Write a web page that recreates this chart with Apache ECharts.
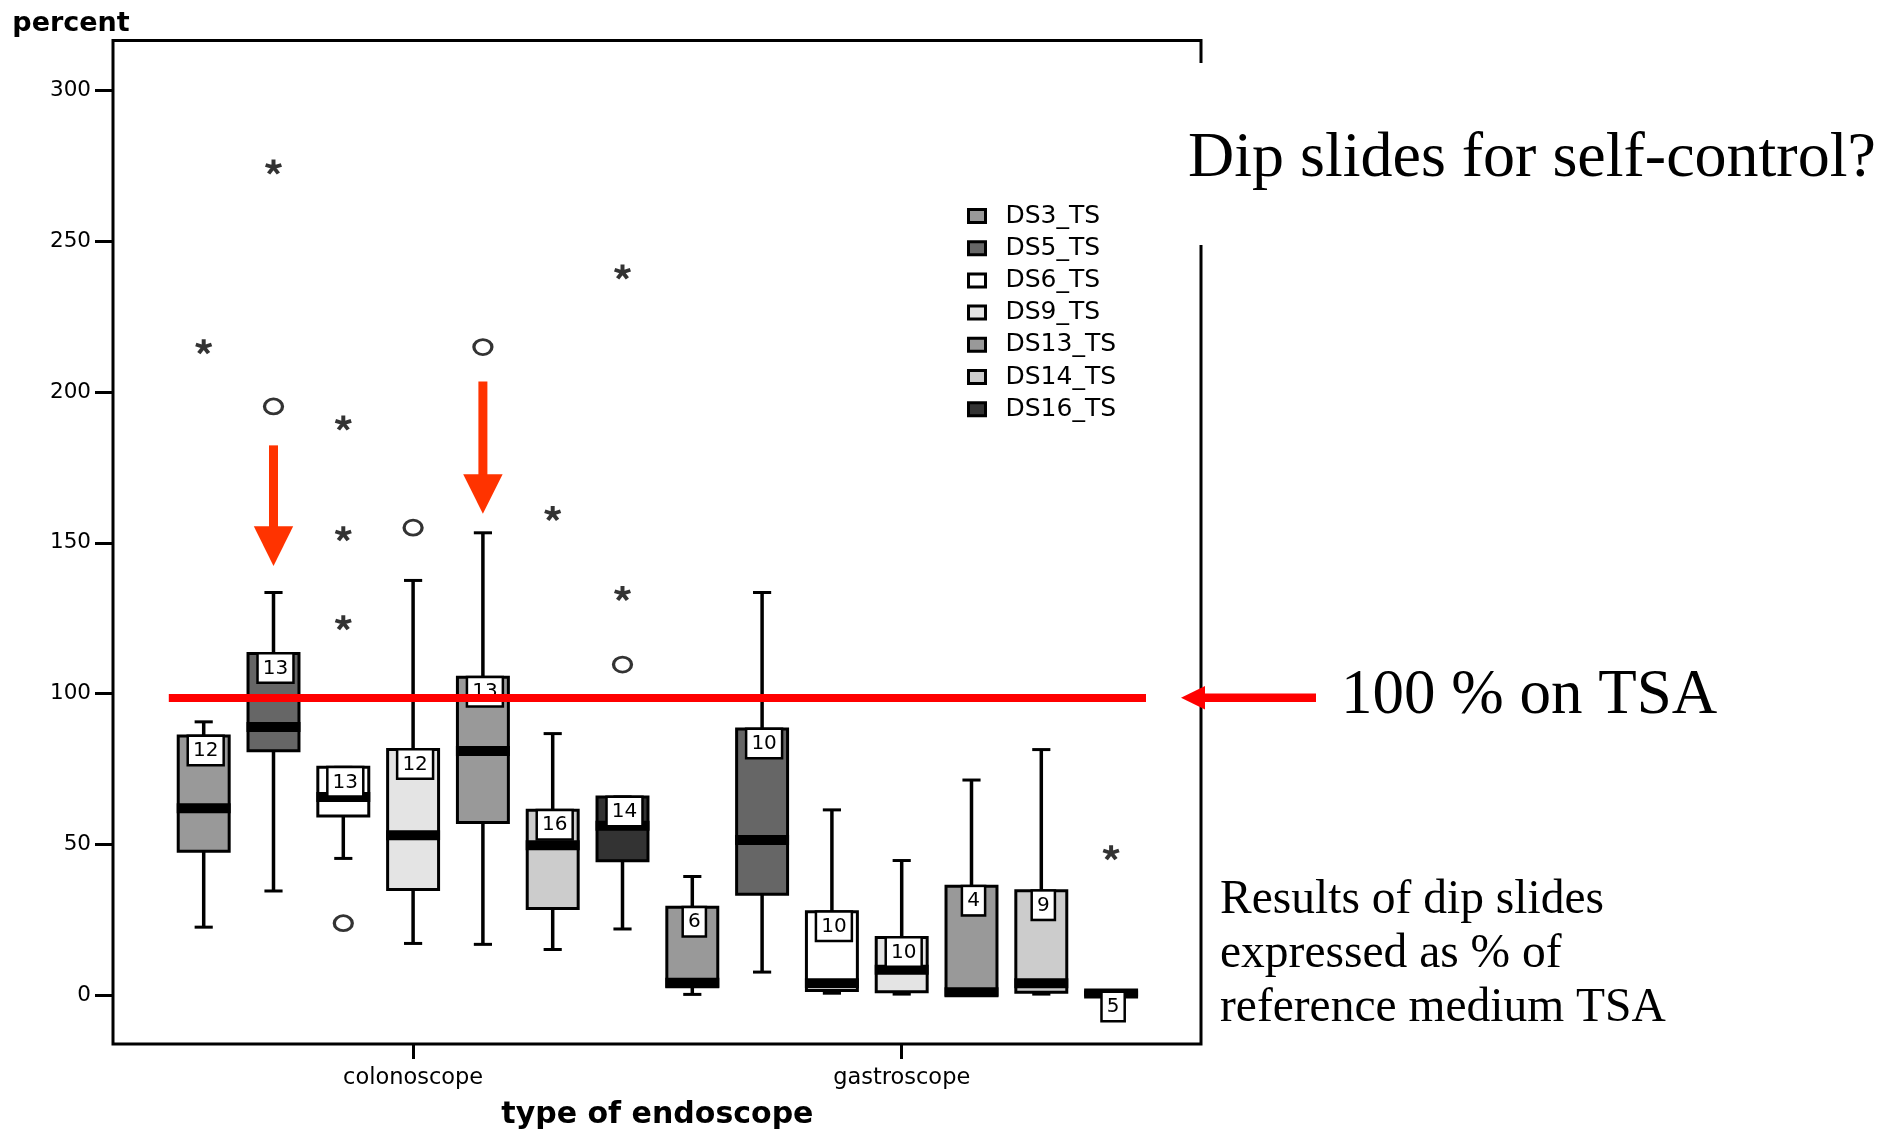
<!DOCTYPE html>
<html>
<head>
<meta charset="utf-8">
<script src="https://cdn.jsdelivr.net/npm/echarts@6/dist/echarts.min.js"></script>
<style>
  html, body { margin: 0; padding: 0; background: #fff; }
  #main { width: 1883px; height: 1131px; }
</style>
</head>
<body>
<div id="main"></div>
<script>
// ---------------- data ----------------
const groups = ['colonoscope', 'gastroscope'];
const seriesNames = ['DS3_TS', 'DS5_TS', 'DS6_TS', 'DS9_TS', 'DS13_TS', 'DS14_TS', 'DS16_TS'];
const seriesColors = ['#999999', '#666666', '#ffffff', '#e4e4e4', '#999999', '#cccccc', '#333333'];

// box statistics [min, Q1, median, Q3, max] per group (colonoscope, gastroscope)
const ds3Stats  = [[22.5, 47.7, 61.9, 85.9, 90.6],   [0.2, 2.7, 4.1, 29.1, 39.3]];
const ds5Stats  = [[34.5, 81.0, 88.9, 113.3, 133.5], [7.6, 33.4, 51.4, 88.2, 133.5]];
const ds6Stats  = [[45.3, 59.4, 65.7, 75.5, 75.5],   [0.6, 1.5, 3.9, 27.6, 61.4]];
const ds9Stats  = [[17.1, 35.0, 53.0, 81.4, 137.5],  [0.3, 1.1, 8.4, 19.1, 44.6]];
const ds13Stats = [[16.8, 57.2, 80.9, 105.4, 153.3], [0.0, 0.0, 0.9, 36.1, 71.3]];
const ds14Stats = [[15.1, 28.7, 49.7, 61.3, 86.7],   [0.3, 0.9, 3.9, 34.6, 81.4]];
const ds16Stats = [[21.9, 44.5, 56.1, 65.7, 65.7],   [0.0, 0.0, 0.5, 1.0, 1.0]];
const allStats = [ds3Stats, ds5Stats, ds6Stats, ds9Stats, ds13Stats, ds14Stats, ds16Stats];

// sample sizes per series (colonoscope, gastroscope)
const sampleSizes = [[12, 6], [13, 10], [13, 10], [12, 10], [13, 4], [16, 9], [14, 5]];

// outliers: [group, series, value]
const outlierStars = [
  ['colonoscope', 'DS3_TS', 215.0],
  ['colonoscope', 'DS5_TS', 274.6],
  ['colonoscope', 'DS6_TS', 189.7],
  ['colonoscope', 'DS6_TS', 153.0],
  ['colonoscope', 'DS6_TS', 123.5],
  ['colonoscope', 'DS14_TS', 159.7],
  ['colonoscope', 'DS16_TS', 239.8],
  ['colonoscope', 'DS16_TS', 133.2],
  ['gastroscope', 'DS16_TS', 47.2]
];
const outlierCircles = [
  ['colonoscope', 'DS5_TS', 195.2],
  ['colonoscope', 'DS6_TS', 23.8],
  ['colonoscope', 'DS9_TS', 155.0],
  ['colonoscope', 'DS13_TS', 214.9],
  ['colonoscope', 'DS16_TS', 109.6]
];

const yTicks = { min: 0, max: 300, interval: 50 };
const referenceLine = 98.6;   // the "100 % on TSA" line as drawn
// annotation arrows (pointing down at boxes): [group, series, shaftTop, headTop, tip]
const downArrows = [
  ['colonoscope', 'DS5_TS', 182.3, 155.5, 142.3],
  ['colonoscope', 'DS13_TS', 203.5, 172.7, 159.6]
];

// ---------------- build ----------------
const categories = [];
groups.forEach(g => seriesNames.forEach(s => categories.push(g + '|' + s)));
const catIndex = (g, s) => groups.indexOf(g) * seriesNames.length + seriesNames.indexOf(s);
const isGroupCenter = (idx) => idx % seriesNames.length === 3;

const STAR_PATH = 'path://M62 50 L62 0 L38 0 L38 50 Z ' +
  'M53.71 61.41 L101.26 45.96 L93.84 23.14 L46.29 38.59 Z ' +
  'M40.29 57.05 L69.68 97.5 L89.1 83.4 L59.71 42.95 Z ' +
  'M40.29 42.95 L10.9 83.4 L30.32 97.5 L59.71 57.05 Z ' +
  'M53.71 38.59 L6.16 23.14 L-1.26 45.96 L46.29 61.41 Z';

function renderBox(params, api) {
  const c = api.value(0);
  const pMin = api.coord([c, api.value(1)]);
  const cx = pMin[0], yMin = pMin[1];
  const yQ1 = api.coord([c, api.value(2)])[1];
  const yMed = api.coord([c, api.value(3)])[1];
  const yQ3 = api.coord([c, api.value(4)])[1];
  const yMax = api.coord([c, api.value(5)])[1];
  const n = api.value(6);
  const band = api.size([1, 0])[0];
  const bw = band * 0.73;
  const cap = band * 0.26;
  const fill = api.visual('color');
  return {
    type: 'group',
    children: [
      { type: 'line', shape: { x1: cx, y1: yMax, x2: cx, y2: yMin }, style: { stroke: '#000', lineWidth: 3.5 } },
      { type: 'line', shape: { x1: cx - cap / 2, y1: yMax, x2: cx + cap / 2, y2: yMax }, style: { stroke: '#000', lineWidth: 3 } },
      { type: 'line', shape: { x1: cx - cap / 2, y1: yMin, x2: cx + cap / 2, y2: yMin }, style: { stroke: '#000', lineWidth: 3 } },
      { type: 'rect', shape: { x: cx - bw / 2, y: yQ3, width: bw, height: Math.max(yQ1 - yQ3, 0) },
        style: { fill: fill, stroke: '#000', lineWidth: 3 } },
      { type: 'rect', shape: { x: cx - bw / 2 - 1.5, y: yMed - 5, width: bw + 3, height: 10 }, style: { fill: '#000' } },
      { type: 'text', x: cx + 2, y: yQ3 + 1,
        style: { text: String(n), align: 'center', verticalAlign: 'top', font: '20px "DejaVu Sans"', fill: '#000',
                 backgroundColor: '#fff', borderColor: '#000', borderWidth: 2.5, padding: [4, 4, 3, 4], lineHeight: 20 } }
    ]
  };
}

const boxSeries = seriesNames.map((name, si) => ({
  name: name,
  type: 'custom',
  renderItem: renderBox,
  clip: false,
  z: 2,
  itemStyle: { color: seriesColors[si], borderColor: '#000', borderWidth: 3 },
  encode: { x: 0, y: [1, 2, 3, 4, 5] },
  data: groups.map((g, gi) => [catIndex(g, name)].concat(allStats[si][gi], [sampleSizes[si][gi]]))
}));

const option = {
  animation: false,
  backgroundColor: '#ffffff',
  grid: { left: 168.8, right: 737, top: 90.5, bottom: 136, containLabel: false, outerBoundsMode: 'none' },
  legend: {
    data: seriesNames,
    orient: 'vertical',
    left: 967, top: 203.5,
    padding: 0,
    itemWidth: 17, itemHeight: 13, itemGap: 7.2,
    icon: 'rect',
    selectedMode: false,
    itemStyle: { borderColor: '#000', borderWidth: 3 },
    textStyle: { fontFamily: 'DejaVu Sans', fontSize: 25, color: '#000', padding: [0, 0, 0, 15] }
  },
  xAxis: {
    type: 'category',
    data: categories,
    offset: 49,
    axisLine: { show: false, onZero: false },
    axisTick: { show: true, alignWithLabel: true, interval: (i) => isGroupCenter(i), length: 15,
                lineStyle: { color: '#000', width: 3 } },
    axisLabel: { interval: (i) => isGroupCenter(i), formatter: (v) => v.split('|')[0],
                 fontFamily: 'DejaVu Sans', fontSize: 22.5, color: '#000', margin: 23 },
    splitLine: { show: false },
    name: 'type of endoscope',
    nameLocation: 'middle',
    nameGap: 56,
    nameTextStyle: { fontFamily: 'DejaVu Sans', fontWeight: 'bold', fontSize: 30, color: '#000' }
  },
  yAxis: {
    type: 'value',
    min: yTicks.min, max: yTicks.max, interval: yTicks.interval,
    offset: 55.8,
    axisLine: { show: false, onZero: false },
    axisTick: { show: true, length: 18, lineStyle: { color: '#000', width: 3 } },
    axisLabel: { fontFamily: 'DejaVu Sans', fontSize: 21.5, color: '#000', margin: 22 },
    splitLine: { show: false },
    name: 'percent',
    nameLocation: 'end',
    nameGap: 53.5,
    nameTextStyle: { fontFamily: 'DejaVu Sans', fontWeight: 'bold', fontSize: 27, color: '#000',
                     align: 'center', padding: [0, 84, 0, 0] }
  },
  series: boxSeries.concat([
    {
      name: 'extreme',
      type: 'scatter',
      z: 5,
      symbol: STAR_PATH,
      symbolSize: [17, 15],
      itemStyle: { color: '#000' },
      data: outlierStars.map(o => [catIndex(o[0], o[1]), o[2]])
    },
    {
      name: 'outlier',
      type: 'scatter',
      z: 5,
      symbol: 'circle',
      symbolSize: [18, 15],
      itemStyle: { color: '#fff', borderColor: '#000', borderWidth: 3 },
      data: outlierCircles.map(o => [catIndex(o[0], o[1]), o[2]]),
      markLine: {
        silent: true,
        symbol: ['none', 'none'],
        z: 6,
        label: { show: false },
        lineStyle: { color: '#ff0000', width: 8, type: 'solid' },
        data: [{ yAxis: referenceLine }]
      }
    }
  ])
};

const chart = echarts.init(document.getElementById('main'), null, { renderer: 'canvas' });
chart.setOption(option);

// ---------------- annotations ----------------
const toPx = (cat, v) => chart.convertToPixel({ xAxisIndex: 0, yAxisIndex: 0 }, [cat, v]);
const graphics = [];
// plot frame
graphics.push({
  type: 'polyline', z: 1,
  shape: { points: [[1201, 245], [1201, 1044], [113, 1044], [113, 40.5], [1201, 40.5], [1201, 63]] },
  style: { stroke: '#000', lineWidth: 3, fill: null }
});
// down arrows
downArrows.forEach(a => {
  const ci = catIndex(a[0], a[1]);
  const top = toPx(ci, a[2]), head = toPx(ci, a[3]), tip = toPx(ci, a[4]);
  const x = top[0];
  graphics.push({ type: 'rect', z: 1, shape: { x: x - 4.5, y: top[1], width: 9, height: head[1] - top[1] + 1 },
                  style: { fill: '#ff3300' } });
  graphics.push({ type: 'polygon', z: 1, shape: { points: [[x - 19.7, head[1]], [x + 19.7, head[1]], [x, tip[1]]] },
                  style: { fill: '#ff3300' } });
});
// left-pointing arrow at the reference line
const refY = toPx(0, referenceLine)[1];
graphics.push({ type: 'rect', z: 1, shape: { x: 1200, y: refY - 4.2, width: 116, height: 8.4 }, style: { fill: '#ff0000' } });
graphics.push({ type: 'polygon', z: 1, shape: { points: [[1181, refY], [1205, refY - 11.7], [1205, refY + 11.7]] },
                style: { fill: '#ff0000' } });
// texts
graphics.push({ type: 'text', z: 1, x: 1188, y: 159,
  style: { text: 'Dip slides for self-control?', font: '64px "Liberation Serif"', fill: '#000', verticalAlign: 'middle', align: 'left' } });
graphics.push({ type: 'text', z: 1, x: 1341, y: 696,
  style: { text: '100 % on TSA', font: '63px "Liberation Serif"', fill: '#000', verticalAlign: 'middle', align: 'left' } });
graphics.push({ type: 'text', z: 1, x: 1220, y: 874,
  style: { text: 'Results of dip slides\nexpressed as % of\nreference medium TSA', font: '47.5px "Liberation Serif"',
           lineHeight: 54, fill: '#000', verticalAlign: 'top', align: 'left' } });
chart.setOption({ graphic: graphics });
</script>
</body>
</html>
